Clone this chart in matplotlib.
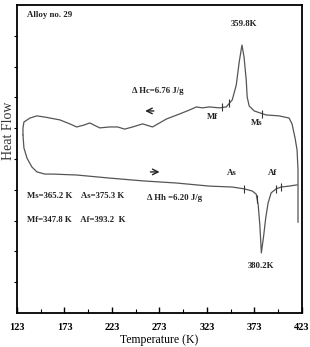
import numpy as np
import matplotlib
matplotlib.use("Agg")
import matplotlib.pyplot as plt

# Cooling curve (upper branch, traced from high T to low T)
cool_T = [418.8, 418.8, 418.8, 417.8, 415.7, 412.5, 409.4, 398.9, 385.2, 372.7,
          367.4, 365.3, 364.3, 362.0, 359.8, 356.9, 353.8, 349.6, 343.3, 336.0,
          325.5, 318.1, 311.8, 304.5, 294.0, 280.4, 273.0, 265.7, 255.2, 244.7,
          236.3, 229.0, 220.6, 210.1, 199.6, 193.3, 185.9, 178.6, 168.1, 152.4,
          144.0, 136.6, 130.3, 129.3, 129.3]
cool_HF = [2.95, 3.99, 4.64, 5.29, 5.68, 6.14, 6.33, 6.40, 6.43, 6.56,
           6.72, 7.01, 7.56, 8.31, 8.70, 8.15, 7.40, 6.92, 6.69, 6.66,
           6.69, 6.66, 6.69, 6.59, 6.46, 6.30, 6.17, 6.04, 6.14, 6.04,
           5.97, 6.04, 6.04, 6.01, 6.17, 6.10, 6.04, 6.14, 6.27, 6.36,
           6.40, 6.33, 6.20, 6.01, 5.78]

# Heating curve (lower branch, low T to high T)
heat_T = [129.3, 130.3, 133.5, 138.7, 144.0, 152.4, 160.8, 185.9, 220.6, 255.2,
          290.8, 325.5, 349.6, 362.2, 370.6, 374.8, 376.9, 378.6, 379.5, 380.2,
          382.5, 384.8, 387.3, 390.5, 395.7, 401.0, 409.4, 417.8]
heat_HF = [5.78, 5.36, 5.03, 4.74, 4.58, 4.51, 4.51, 4.48, 4.38, 4.29,
           4.22, 4.12, 4.09, 4.03, 3.96, 3.86, 3.51, 2.86, 2.37, 1.95,
           2.47, 3.08, 3.57, 3.90, 4.03, 4.09, 4.12, 4.16]

# tangent-construction tick positions (temperatures)
cool_ticks_T = [339.1, 346.4, 381.1]
heat_ticks_T = [362.2, 375.8, 395.7, 401.0]

x_ticks = [123, 173, 223, 273, 323, 373, 423]

plt.rcParams['font.family'] = ['Liberation Serif', 'DejaVu Serif']

fig = plt.figure(figsize=(3.10, 3.47), dpi=100)
ax = fig.add_axes([0.0548, 0.098, 0.9194, 0.8876])

line_col = '#555555'
ax.plot(cool_T, cool_HF, color=line_col, lw=0.9)
ax.plot(heat_T, heat_HF, color=line_col, lw=0.9)

# tick marks on curves
ct = np.array(cool_ticks_T)
order_c = np.argsort(cool_T)
ch = np.interp(ct, np.array(cool_T)[order_c], np.array(cool_HF)[order_c])
ax.plot(ct, ch, linestyle='none', marker='|', ms=6, mew=0.8, color='#333333')
ht = np.array(heat_ticks_T)
hh = np.interp(ht, heat_T, heat_HF)
ax.plot(ht, hh, linestyle='none', marker='|', ms=6, mew=0.8, color='#333333')

ax.set_xlim(123, 423)
ax.set_ylim(0, 10)
ax.set_xticks(x_ticks)
ax.set_xticks(np.arange(148, 423, 50), minor=True)
ax.set_yticks(np.arange(1, 10, 1))
ax.set_yticklabels([])
ax.tick_params(axis='x', which='major', direction='in', length=4, width=1, pad=7,
               labelsize=7.5)
ax.tick_params(axis='x', which='minor', direction='in', length=3, width=0.8)
ax.tick_params(axis='y', direction='out', length=2, width=0.8)
for lab in ax.get_xticklabels():
    lab.set_fontweight('bold')
for s in ax.spines.values():
    s.set_linewidth(1.3)

ax.set_xlabel('Temperature (K)', fontsize=8.5, labelpad=2)
ax.set_ylabel('Heat Flow', fontsize=10.0, va='center', color='#333333')
ax.yaxis.set_label_coords(-0.031, 0.59)

bkw = dict(fontsize=6.3, fontweight='bold', color='#222222')
ax.text(133.5, 9.68, 'Alloy no. 29', ha='left', va='center', **bkw)
ax.text(362.2, 9.38, '359.8K', ha='center', va='center', **bkw)
ax.text(270.9, 7.21, 'Δ Hc=6.76 J/g', ha='center', va='center', **bkw)
ax.text(328.6, 6.36, 'Mf', ha='center', va='center', **bkw)
ax.text(374.8, 6.17, 'Ms', ha='center', va='center', **bkw)
ax.text(349.6, 4.55, 'As', ha='center', va='center', **bkw)
ax.text(391.5, 4.55, 'Af', ha='center', va='center', **bkw)
ax.text(133.5, 3.80, 'Ms=365.2 K    As=375.3 K', ha='left', va='center', **bkw)
ax.text(288.7, 3.73, 'Δ Hh =6.20 J/g', ha='center', va='center', **bkw)
ax.text(133.5, 3.02, 'Mf=347.8 K    Af=393.2  K', ha='left', va='center', **bkw)
ax.text(380.0, 1.53, '380.2K', ha='center', va='center', **bkw)

ax.annotate('', xy=(255.0, 6.56), xytext=(270.0, 6.56),
            arrowprops=dict(arrowstyle='->', lw=1.0, color='#222222'))
ax.annotate('', xy=(276.0, 4.58), xytext=(260.5, 4.58),
            arrowprops=dict(arrowstyle='->', lw=1.0, color='#222222'))

fig.savefig('out.png', dpi=100)
